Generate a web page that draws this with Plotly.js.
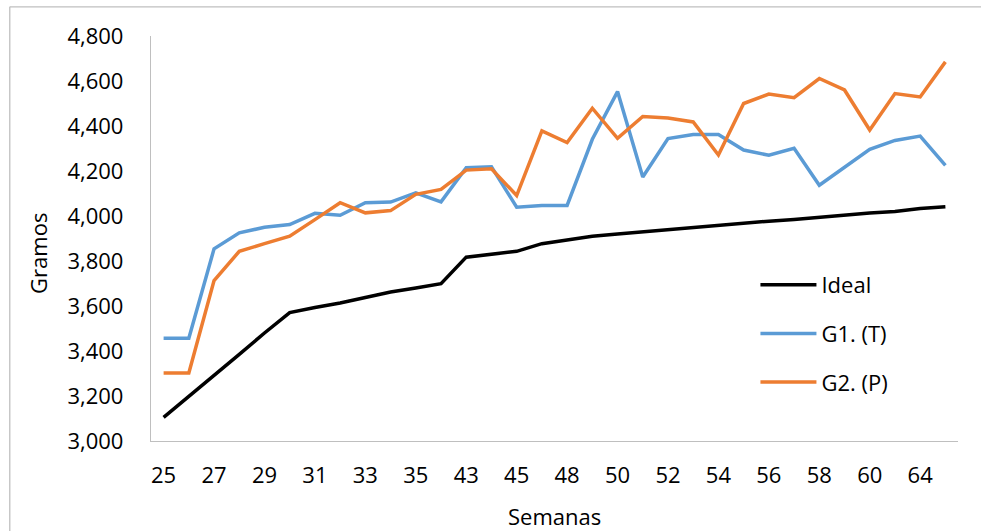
<!DOCTYPE html>
<html>
<head>
<meta charset="utf-8">
<script src="https://cdn.plot.ly/plotly-3.0.1.min.js"></script>
<style>
  html, body { margin: 0; padding: 0; background: #fff; }
  #chart { width: 981px; height: 531px; }
</style>
</head>
<body>
<div id="chart"></div>
<script>
// weeks (category axis, every other one labelled)
var semanas = ['25','26','27','28','29','30','31','32','33','34','35','36',
               '43','44','45','46','48','49','50','51','52','53','54','55',
               '56','57','58','59','60','62','64','65'];

var ideal = [3105, 3198, 3288, 3385, 3480, 3571, 3593, 3613, 3638, 3662, 3680, 3699,
             3817, 3830, 3843, 3877, 3892, 3910, 3920, 3930, 3940, 3950, 3958, 3967,
             3977, 3985, 3995, 4005, 4013, 4020, 4033, 4041];

var g1 = [3457, 3457, 3854, 3925, 3950, 3962, 4012, 4003, 4059, 4062, 4103, 4063,
          4215, 4219, 4039, 4047, 4047, 4341, 4553, 4173, 4344, 4362, 4362, 4293,
          4270, 4301, 4137, 4215, 4296, 4336, 4355, 4225];

var g2 = [3302, 3302, 3713, 3843, 3877, 3910, 3984, 4059, 4014, 4024, 4096, 4118,
          4204, 4210, 4091, 4378, 4326, 4479, 4345, 4442, 4436, 4418, 4271, 4500,
          4542, 4526, 4611, 4560, 4382, 4544, 4529, 4685];

var xTicks = semanas.filter(function (s, i) { return i % 2 === 0; });

var fontFam = '"Open Sans", Lato, sans-serif';

var data = [
    {
    x: semanas,
    y: ideal,
    mode: 'lines',
    type: 'scatter',
    name: 'Ideal',
    legendgroup: 'a',
    line: { color: '#000000', width: 3.5 }
    },
    {
    x: semanas,
    y: g1,
    mode: 'lines',
    type: 'scatter',
    name: 'G1. (T)',
    legendgroup: 'b',
    line: { color: '#5B9BD5', width: 3.5 }
    },
    {
    x: semanas,
    y: g2,
    mode: 'lines',
    type: 'scatter',
    name: 'G2. (P)',
    legendgroup: 'c',
    line: { color: '#ED7D31', width: 3.5 }
    }
];

var layout = {
    width: 981,
    height: 531,
    margin: { l: 151, r: 23, t: 36, b: 90 },
    paper_bgcolor: '#ffffff',
    plot_bgcolor: '#ffffff',
    font: { family: fontFam, size: 22, color: '#000000' },
    showlegend: true,
    legend: {
        x: 0.749,
        y: 0.437,
        xanchor: 'left',
        yanchor: 'top',
        bgcolor: 'rgba(0,0,0,0)',
        font: { family: fontFam, size: 22, color: '#000000' },
        tracegroupgap: 17,
        itemwidth: 56
    },
    xaxis: {
        type: 'category',
        tickmode: 'array',
        tickvals: xTicks,
        ticktext: xTicks,
        range: [-0.5, semanas.length - 0.5],
        showgrid: false,
        zeroline: false,
        showline: true,
        linecolor: '#BFBFBF',
        linewidth: 1.3,
        ticks: '',
        ticklabelstandoff: 14,
        tickfont: { family: fontFam, size: 22 }
    },
    yaxis: {
        range: [3000, 4800],
        dtick: 200,
        tickformat: ',d',
        showgrid: false,
        zeroline: false,
        showline: true,
        linecolor: '#BFBFBF',
        linewidth: 1.3,
        ticks: '',
        ticklabelstandoff: 22,
        tickfont: { family: fontFam, size: 22 }
    },
    annotations: [
        {
        text: 'Gramos',
        xref: 'paper', yref: 'paper',
        x: -0.14, y: 0.462,
        xanchor: 'center', yanchor: 'middle',
        textangle: -90,
        showarrow: false,
        font: { family: fontFam, size: 22 }
        },
        {
        text: 'Semanas',
        xref: 'paper', yref: 'paper',
        x: 0.5, y: -0.186,
        xanchor: 'center', yanchor: 'middle',
        showarrow: false,
        font: { family: fontFam, size: 22 }
        }
    ],
    shapes: [
        // outer chart frame (only top and left edges are inside the picture)
        { type: 'line', xref: 'paper', yref: 'paper', x0: -0.175, x1: 1.05, y0: 1.072, y1: 1.072,
          line: { color: '#BFBFBF', width: 1.3 } },
        { type: 'line', xref: 'paper', yref: 'paper', x0: -0.175, x1: -0.175, y0: 1.072, y1: -0.3,
          line: { color: '#BFBFBF', width: 1.3 } }
    ]
};

Plotly.newPlot('chart', data, layout, { displayModeBar: false, responsive: false });
</script>
</body>
</html>
